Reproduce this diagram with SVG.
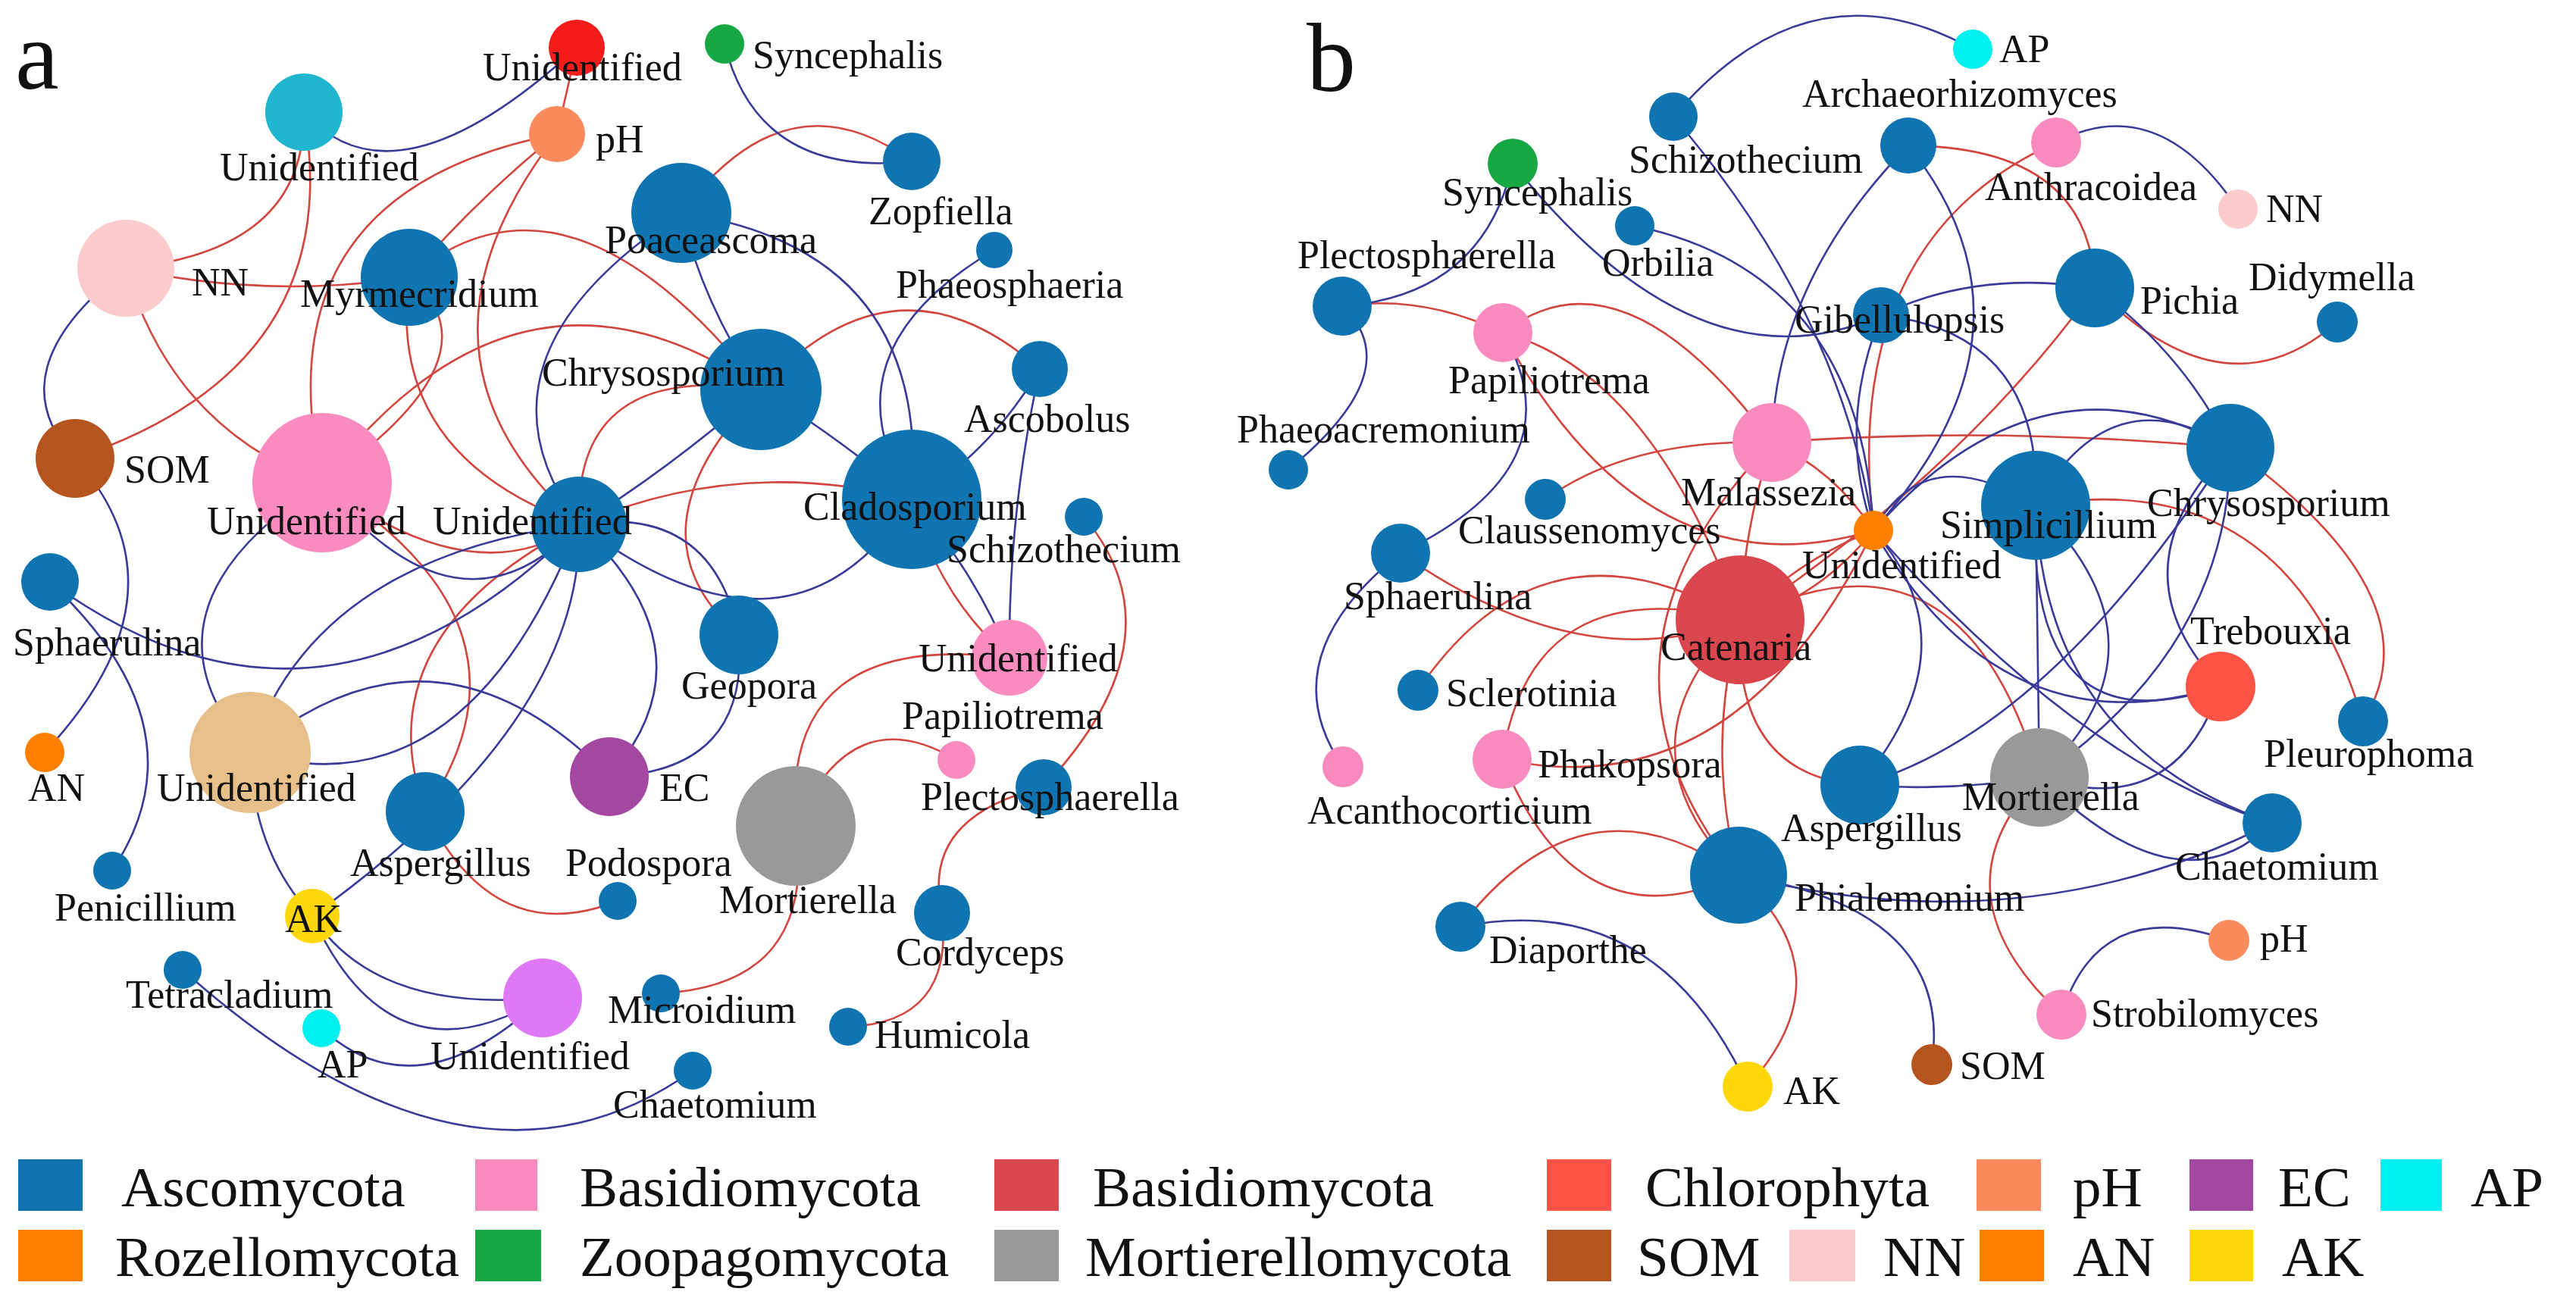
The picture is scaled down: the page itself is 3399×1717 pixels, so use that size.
<svg xmlns="http://www.w3.org/2000/svg" width="3399" height="1717" viewBox="0 0 3399 1717">
<style>
text{font-family:"Liberation Serif","Times New Roman",serif;fill:#111}
.l{font-size:52px}
.big{font-size:130px}
.lg{font-size:75px}
path.r{fill:none;stroke:#d2463f;stroke-width:2.6}
path.b{fill:none;stroke:#3a3a98;stroke-width:2.6}
.asc{fill:#0f74b0}.bas{fill:#f98bbf}.cat{fill:#d9464e}.chl{fill:#fc5347}.ph{fill:#fb8a5c}.ec{fill:#a447a0}.ap{fill:#00f0f0}
.roz{fill:#fd7f00}.zoo{fill:#17a843}.mort{fill:#999999}.som{fill:#b5541e}.nn{fill:#fccbcc}.an{fill:#fd7f00}.ak{fill:#fed70b}
.ured{fill:#f51c1c}.ucy{fill:#21b6cf}.utan{fill:#e6bf8b}.uvio{fill:#df78f5}
</style>
<rect width="3399" height="1717" fill="#ffffff"/>
<text class="big" x="20" y="117">a</text>
<text class="big" x="1724" y="120">b</text>
<g id="edges">
<!-- panel a positive -->
<path class="r" d="M761 63 Q748 120 735 177"/>
<path class="r" d="M401 148 Q404 331 166 354"/>
<path class="r" d="M401 148 Q460 484 99 605"/>
<path class="r" d="M735 177 Q630 262 540 366"/>
<path class="r" d="M735 177 Q340 253 425 637"/>
<path class="r" d="M735 177 Q512 466 764 692"/>
<path class="r" d="M166 354 Q353 395 540 366"/>
<path class="r" d="M166 354 Q228 565 425 637"/>
<path class="r" d="M540 366 Q666 469 425 637"/>
<path class="r" d="M540 366 Q508 601 764 692"/>
<path class="r" d="M540 366 Q748 190 1004 514"/>
<path class="r" d="M425 637 Q686 297 1004 514"/>
<path class="r" d="M899 281 Q1039 93 1203 213"/>
<path class="r" d="M1004 514 Q1182 320 1372 487"/>
<path class="r" d="M764 692 Q977 601 1203 659"/>
<path class="r" d="M764 692 Q756 477 1004 514"/>
<path class="r" d="M1004 514 Q821 704 975 838"/>
<path class="r" d="M425 637 Q727 826 561 1071"/>
<path class="r" d="M764 692 Q478 839 561 1071"/>
<path class="r" d="M1203 659 Q1240 790 1332 868"/>
<path class="r" d="M1430 682 Q1563 840 1377 1039"/>
<path class="r" d="M1050 1090 Q1029 831 1332 868"/>
<path class="r" d="M1050 1090 Q1124 920 1262 1003"/>
<path class="r" d="M1377 1039 Q1214 1078 1243 1205"/>
<path class="r" d="M1050 1090 Q1079 1300 872 1311"/>
<path class="r" d="M1243 1205 Q1259 1350 1119 1355"/>
<path class="r" d="M561 1071 Q652 1254 815 1189"/>
<path class="r" d="M425 637 Q626 788 764 692"/>
<!-- panel a negative -->
<path class="b" d="M401 148 Q521 283 761 63"/>
<path class="b" d="M956 58 Q1000 235 1203 213"/>
<path class="b" d="M166 354 Q-8 490 99 605"/>
<path class="b" d="M99 605 Q257 781 59 993"/>
<path class="b" d="M66 768 Q273 962 148 1149"/>
<path class="b" d="M899 281 Q928 403 1004 514"/>
<path class="b" d="M899 281 Q1229 330 1203 659"/>
<path class="b" d="M1312 330 Q1082 466 1203 659"/>
<path class="b" d="M1372 487 Q1305 600 1203 659"/>
<path class="b" d="M1004 514 Q1110 580 1203 659"/>
<path class="b" d="M764 692 Q604 474 899 281"/>
<path class="b" d="M764 692 Q875 625 1004 514"/>
<path class="b" d="M764 692 Q940 665 975 838"/>
<path class="b" d="M764 692 Q1046 904 1203 659"/>
<path class="b" d="M764 692 Q946 862 804 1025"/>
<path class="b" d="M975 838 Q990 1018 804 1025"/>
<path class="b" d="M764 692 Q425 1030 66 768"/>
<path class="b" d="M764 692 Q413 738 330 993"/>
<path class="b" d="M764 692 Q613 1078 330 993"/>
<path class="b" d="M330 993 Q573 791 804 1025"/>
<path class="b" d="M425 637 Q166 805 330 993"/>
<path class="b" d="M330 993 Q333 1123 412 1209"/>
<path class="b" d="M764 692 Q772 950 412 1209"/>
<path class="b" d="M412 1209 Q496 1337 716 1317"/>
<path class="b" d="M412 1209 Q516 1437 716 1317"/>
<path class="b" d="M424 1357 Q550 1473 716 1317"/>
<path class="b" d="M241 1280 Q622 1620 914 1413"/>
<path class="b" d="M425 637 Q606 860 764 692"/>
<path class="b" d="M1203 659 Q1290 760 1332 868"/>
<path class="b" d="M1372 487 Q1330 680 1332 868"/>
<!-- panel b positive -->
<path class="r" d="M1771 404 Q1877 388 1983 439"/>
<path class="r" d="M1983 439 Q2140 318 2338 584"/>
<path class="r" d="M1983 439 Q2180 492 2296 818"/>
<path class="r" d="M1983 439 Q2172 790 2472 700"/>
<path class="r" d="M2039 659 Q2152 578 2338 584"/>
<path class="r" d="M2338 584 Q2630 562 2943 591"/>
<path class="r" d="M2518 192 Q2759 194 2764 380"/>
<path class="r" d="M2713 188 Q2428 316 2472 700"/>
<path class="r" d="M2764 380 Q2936 554 3084 425"/>
<path class="r" d="M2764 380 Q2590 621 2296 818"/>
<path class="r" d="M2472 700 Q2370 740 2296 818"/>
<path class="r" d="M2472 700 Q2400 790 2296 818"/>
<path class="r" d="M2338 584 Q2420 620 2472 700"/>
<path class="r" d="M1848 730 Q2088 898 2296 818"/>
<path class="r" d="M1871 911 Q2037 666 2296 818"/>
<path class="r" d="M1982 1002 Q2021 750 2296 818"/>
<path class="r" d="M1982 1002 Q2293 1069 2472 700"/>
<path class="r" d="M1982 1002 Q2082 1252 2294 1155"/>
<path class="r" d="M1927 1223 Q2090 1011 2294 1155"/>
<path class="r" d="M2294 1155 Q2440 1286 2306 1434"/>
<path class="r" d="M2296 818 Q2250 986 2294 1155"/>
<path class="r" d="M2296 818 Q2125 984 2294 1155"/>
<path class="r" d="M2338 584 Q2064 870 2294 1155"/>
<path class="r" d="M2296 818 Q2285 1023 2454 1036"/>
<path class="r" d="M2296 818 Q2587 668 2691 1026"/>
<path class="r" d="M2691 1026 Q2547 1178 2720 1339"/>
<path class="r" d="M2943 591 Q3220 789 3118 952"/>
<path class="r" d="M2686 667 Q3018 611 3118 952"/>
<path class="r" d="M2338 584 Q2300 700 2296 818"/>
<!-- panel b negative -->
<path class="b" d="M2208 154 Q2387 -56 2603 65"/>
<path class="b" d="M2208 154 Q2430 413 2472 700"/>
<path class="b" d="M1996 216 Q1957 390 1771 404"/>
<path class="b" d="M1996 216 Q2241 524 2482 416"/>
<path class="b" d="M2157 298 Q2456 361 2472 700"/>
<path class="b" d="M1771 404 Q1861 488 1700 620"/>
<path class="b" d="M1983 439 Q2085 616 1848 730"/>
<path class="b" d="M2338 584 Q2342 372 2518 192"/>
<path class="b" d="M2518 192 Q2711 434 2472 700"/>
<path class="b" d="M2713 188 Q2847 118 2953 276"/>
<path class="b" d="M2764 380 Q2880 465 2943 591"/>
<path class="b" d="M2764 380 Q2607 356 2482 416"/>
<path class="b" d="M2482 416 Q2696 439 2686 667"/>
<path class="b" d="M2472 700 Q2423 562 2482 416"/>
<path class="b" d="M2472 700 Q2541 577 2686 667"/>
<path class="b" d="M2472 700 Q2693 451 2943 591"/>
<path class="b" d="M2472 700 Q2643 995 2930 906"/>
<path class="b" d="M2472 700 Q2749 1011 2998 1086"/>
<path class="b" d="M2472 700 Q2607 852 2454 1036"/>
<path class="b" d="M1927 1223 Q2184 1172 2306 1434"/>
<path class="b" d="M2294 1155 Q2579 1200 2549 1405"/>
<path class="b" d="M1848 730 Q1674 869 1772 1012"/>
<path class="b" d="M2720 1339 Q2770 1180 2941 1241"/>
<path class="b" d="M2686 667 Q2786 491 2943 591"/>
<path class="b" d="M2686 667 Q2689 847 2691 1026"/>
<path class="b" d="M2686 667 Q2672 994 2930 906"/>
<path class="b" d="M2686 667 Q2698 984 2998 1086"/>
<path class="b" d="M2686 667 Q2876 854 2691 1026"/>
<path class="b" d="M2943 591 Q2784 752 2930 906"/>
<path class="b" d="M2943 591 Q2943 852 2691 1026"/>
<path class="b" d="M2930 906 Q2870 1084 2691 1026"/>
<path class="b" d="M2454 1036 Q2702 967 2943 591"/>
<path class="b" d="M2454 1036 Q2570 1045 2691 1026"/>
<path class="b" d="M2691 1026 Q2876 1208 2998 1086"/>
<path class="b" d="M2294 1155 Q2674 1250 2998 1086"/>
</g>
<g id="nodes-a">
<g id="a-unid-red"><circle class="ured" cx="761" cy="63" r="37"/><text class="l" x="637" y="106">Unidentified</text></g>
<g id="a-syncephalis"><circle class="zoo" cx="956" cy="58" r="26"/><text class="l" x="993" y="90">Syncephalis</text></g>
<g id="a-unid-cyan"><circle class="ucy" cx="401" cy="148" r="51"/><text class="l" x="290" y="238">Unidentified</text></g>
<g id="a-ph"><circle class="ph" cx="735" cy="177" r="37"/><text class="l" x="786" y="201">pH</text></g>
<g id="a-nn"><circle class="nn" cx="166" cy="354" r="64"/><text class="l" x="253" y="390">NN</text></g>
<g id="a-myrmecridium"><circle class="asc" cx="540" cy="366" r="64"/><text class="l" x="396" y="405">Myrmecridium</text></g>
<g id="a-poaceascoma"><circle class="asc" cx="899" cy="281" r="66"/><text class="l" x="798" y="334">Poaceascoma</text></g>
<g id="a-zopfiella"><circle class="asc" cx="1203" cy="213" r="38"/><text class="l" x="1146" y="296">Zopfiella</text></g>
<g id="a-phaeosphaeria"><circle class="asc" cx="1312" cy="330" r="24"/><text class="l" x="1182" y="393">Phaeosphaeria</text></g>
<g id="a-chrysosporium"><circle class="asc" cx="1004" cy="514" r="80"/><text class="l" x="715" y="509">Chrysosporium</text></g>
<g id="a-ascobolus"><circle class="asc" cx="1372" cy="487" r="37"/><text class="l" x="1272" y="570">Ascobolus</text></g>
<g id="a-som"><circle class="som" cx="99" cy="605" r="52"/><text class="l" x="164" y="637">SOM</text></g>
<g id="a-unid-pink"><circle class="bas" cx="425" cy="637" r="92"/><text class="l" x="273" y="705">Unidentified</text></g>
<g id="a-unid-hub"><circle class="asc" cx="764" cy="692" r="63"/><text class="l" x="571" y="705">Unidentified</text></g>
<g id="a-cladosporium"><circle class="asc" cx="1203" cy="659" r="92"/><text class="l" x="1060" y="686">Cladosporium</text></g>
<g id="a-schizothecium"><circle class="asc" cx="1430" cy="682" r="25"/><text class="l" x="1249" y="742">Schizothecium</text></g>
<g id="a-sphaerulina"><circle class="asc" cx="66" cy="768" r="38"/><text class="l" x="17" y="865">Sphaerulina</text></g>
<g id="a-geopora"><circle class="asc" cx="975" cy="838" r="52"/><text class="l" x="899" y="922">Geopora</text></g>
<g id="a-unid-pink2"><circle class="bas" cx="1332" cy="868" r="50"/><text class="l" x="1212" y="886">Unidentified</text></g>
<g id="a-unid-tan"><circle class="utan" cx="330" cy="993" r="80"/><text class="l" x="207" y="1057">Unidentified</text></g>
<g id="a-an"><circle class="an" cx="59" cy="993" r="26"/><text class="l" x="37" y="1057">AN</text></g>
<g id="a-ec"><circle class="ec" cx="804" cy="1025" r="52"/><text class="l" x="870" y="1057">EC</text></g>
<g id="a-aspergillus"><circle class="asc" cx="561" cy="1071" r="52"/><text class="l" x="462" y="1156">Aspergillus</text></g>
<g id="a-papiliotrema"><circle class="bas" cx="1262" cy="1003" r="25"/><text class="l" x="1190" y="962">Papiliotrema</text></g>
<g id="a-plectosphaerella"><circle class="asc" cx="1377" cy="1039" r="37"/><text class="l" x="1215" y="1069">Plectosphaerella</text></g>
<g id="a-mortierella"><circle class="mort" cx="1050" cy="1090" r="79"/><text class="l" x="949" y="1205">Mortierella</text></g>
<g id="a-penicillium"><circle class="asc" cx="148" cy="1149" r="25"/><text class="l" x="72" y="1215">Penicillium</text></g>
<g id="a-podospora"><circle class="asc" cx="815" cy="1189" r="25"/><text class="l" x="746" y="1156">Podospora</text></g>
<g id="a-ak"><circle class="ak" cx="412" cy="1209" r="36"/><text class="l" x="376" y="1230">AK</text></g>
<g id="a-cordyceps"><circle class="asc" cx="1243" cy="1205" r="37"/><text class="l" x="1182" y="1274">Cordyceps</text></g>
<g id="a-tetracladium"><circle class="asc" cx="241" cy="1280" r="25"/><text class="l" x="166" y="1330">Tetracladium</text></g>
<g id="a-unid-violet"><circle class="uvio" cx="716" cy="1317" r="52"/><text class="l" x="568" y="1411">Unidentified</text></g>
<g id="a-microidium"><circle class="asc" cx="872" cy="1311" r="25"/><text class="l" x="802" y="1350">Microidium</text></g>
<g id="a-ap"><circle class="ap" cx="424" cy="1357" r="25"/><text class="l" x="419" y="1422">AP</text></g>
<g id="a-humicola"><circle class="asc" cx="1119" cy="1355" r="25"/><text class="l" x="1154" y="1383">Humicola</text></g>
<g id="a-chaetomium"><circle class="asc" cx="914" cy="1413" r="25"/><text class="l" x="809" y="1475">Chaetomium</text></g>
</g>
<g id="nodes-b">
<g id="b-ap"><circle class="ap" cx="2603" cy="65" r="26"/><text class="l" x="2638" y="82">AP</text></g>
<g id="b-archaeorhizomyces"><circle class="asc" cx="2518" cy="192" r="37"/><text class="l" x="2378" y="141">Archaeorhizomyces</text></g>
<g id="b-schizothecium"><circle class="asc" cx="2208" cy="154" r="32"/><text class="l" x="2149" y="228">Schizothecium</text></g>
<g id="b-anthracoidea"><circle class="bas" cx="2713" cy="188" r="33"/><text class="l" x="2619" y="264">Anthracoidea</text></g>
<g id="b-nn"><circle class="nn" cx="2953" cy="276" r="26"/><text class="l" x="2990" y="293">NN</text></g>
<g id="b-syncephalis"><circle class="zoo" cx="1996" cy="216" r="33"/><text class="l" x="1903" y="271">Syncephalis</text></g>
<g id="b-orbilia"><circle class="asc" cx="2157" cy="298" r="26"/><text class="l" x="2114" y="364">Orbilia</text></g>
<g id="b-plectosphaerella"><circle class="asc" cx="1771" cy="404" r="39"/><text class="l" x="1712" y="354">Plectosphaerella</text></g>
<g id="b-gibellulopsis"><circle class="asc" cx="2482" cy="416" r="37"/><text class="l" x="2368" y="439">Gibellulopsis</text></g>
<g id="b-pichia"><circle class="asc" cx="2764" cy="380" r="52"/><text class="l" x="2824" y="414">Pichia</text></g>
<g id="b-didymella"><circle class="asc" cx="3084" cy="425" r="27"/><text class="l" x="2967" y="383">Didymella</text></g>
<g id="b-papiliotrema"><circle class="bas" cx="1983" cy="439" r="39"/><text class="l" x="1911" y="519">Papiliotrema</text></g>
<g id="b-phaeoacremonium"><circle class="asc" cx="1700" cy="620" r="26"/><text class="l" x="1632" y="584">Phaeoacremonium</text></g>
<g id="b-malassezia"><circle class="bas" cx="2338" cy="584" r="52"/><text class="l" x="2218" y="667">Malassezia</text></g>
<g id="b-chrysosporium"><circle class="asc" cx="2943" cy="591" r="58"/><text class="l" x="2833" y="681">Chrysosporium</text></g>
<g id="b-claussenomyces"><circle class="asc" cx="2039" cy="659" r="27"/><text class="l" x="1924" y="717">Claussenomyces</text></g>
<g id="b-simplicillium"><circle class="asc" cx="2686" cy="667" r="72"/><text class="l" x="2560" y="710">Simplicillium</text></g>
<g id="b-sphaerulina"><circle class="asc" cx="1848" cy="730" r="39"/><text class="l" x="1773" y="804">Sphaerulina</text></g>
<g id="b-catenaria"><circle class="cat" cx="2296" cy="818" r="85"/><text class="l" x="2191" y="871">Catenaria</text></g>
<g id="b-unidentified"><circle class="roz" cx="2472" cy="700" r="26"/><text class="l" x="2378" y="763">Unidentified</text></g>
<g id="b-trebouxia"><circle class="chl" cx="2930" cy="906" r="46"/><text class="l" x="2890" y="850">Trebouxia</text></g>
<g id="b-pleurophoma"><circle class="asc" cx="3118" cy="952" r="33"/><text class="l" x="2987" y="1012">Pleurophoma</text></g>
<g id="b-sclerotinia"><circle class="asc" cx="1871" cy="911" r="27"/><text class="l" x="1908" y="932">Sclerotinia</text></g>
<g id="b-acanthocorticium"><circle class="bas" cx="1772" cy="1012" r="27"/><text class="l" x="1725" y="1087">Acanthocorticium</text></g>
<g id="b-phakopsora"><circle class="bas" cx="1982" cy="1002" r="39"/><text class="l" x="2029" y="1026">Phakopsora</text></g>
<g id="b-aspergillus"><circle class="asc" cx="2454" cy="1036" r="52"/><text class="l" x="2350" y="1110">Aspergillus</text></g>
<g id="b-mortierella"><circle class="mort" cx="2691" cy="1026" r="65"/><text class="l" x="2589" y="1069">Mortierella</text></g>
<g id="b-chaetomium"><circle class="asc" cx="2998" cy="1086" r="39"/><text class="l" x="2870" y="1161">Chaetomium</text></g>
<g id="b-phialemonium"><circle class="asc" cx="2294" cy="1155" r="64"/><text class="l" x="2368" y="1202">Phialemonium</text></g>
<g id="b-diaporthe"><circle class="asc" cx="1927" cy="1223" r="33"/><text class="l" x="1965" y="1271">Diaporthe</text></g>
<g id="b-ph"><circle class="ph" cx="2941" cy="1241" r="27"/><text class="l" x="2982" y="1256">pH</text></g>
<g id="b-strobilomyces"><circle class="bas" cx="2720" cy="1339" r="33"/><text class="l" x="2759" y="1355">Strobilomyces</text></g>
<g id="b-ak"><circle class="ak" cx="2306" cy="1434" r="33"/><text class="l" x="2353" y="1457">AK</text></g>
<g id="b-som"><circle class="som" cx="2549" cy="1405" r="27"/><text class="l" x="2586" y="1424">SOM</text></g>
</g>
<g id="legend">
<rect class="asc" x="24" y="1530" width="85" height="68"/><text class="lg" x="160" y="1592">Ascomycota</text>
<rect class="bas" x="627" y="1530" width="82" height="68"/><text class="lg" x="765" y="1592">Basidiomycota</text>
<rect class="cat" x="1312" y="1530" width="85" height="68"/><text class="lg" x="1442" y="1592">Basidiomycota</text>
<rect class="chl" x="2041" y="1530" width="85" height="68"/><text class="lg" x="2171" y="1592">Chlorophyta</text>
<rect class="ph" x="2608" y="1530" width="85" height="68"/><text class="lg" x="2735" y="1592">pH</text>
<rect class="ec" x="2889" y="1530" width="84" height="68"/><text class="lg" x="3006" y="1592">EC</text>
<rect class="ap" x="3141" y="1530" width="81" height="68"/><text class="lg" x="3260" y="1592">AP</text>
<rect class="roz" x="24" y="1623" width="85" height="68"/><text class="lg" x="152" y="1684">Rozellomycota</text>
<rect class="zoo" x="627" y="1623" width="87" height="68"/><text class="lg" x="765" y="1684">Zoopagomycota</text>
<rect class="mort" x="1312" y="1623" width="85" height="68"/><text class="lg" x="1432" y="1684">Mortierellomycota</text>
<rect class="som" x="2041" y="1623" width="85" height="68"/><text class="lg" x="2160" y="1684">SOM</text>
<rect class="nn" x="2361" y="1623" width="87" height="68"/><text class="lg" x="2485" y="1684">NN</text>
<rect class="an" x="2612" y="1623" width="85" height="68"/><text class="lg" x="2735" y="1684">AN</text>
<rect class="ak" x="2889" y="1623" width="84" height="68"/><text class="lg" x="3011" y="1684">AK</text>
</g>
</svg>
